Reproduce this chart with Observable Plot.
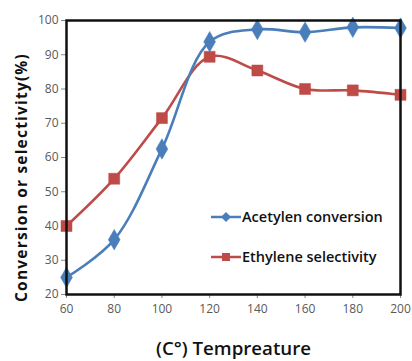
<!DOCTYPE html>
<html><head><meta charset="utf-8">
<script src="https://cdn.jsdelivr.net/npm/d3@7"></script>
<script src="https://cdn.jsdelivr.net/npm/@observablehq/plot@0.6"></script>
<style>
body{margin:0;background:#fff;}
#wrap{position:relative;width:412px;height:361px;}
.leg{position:absolute;font-family:"Open Sans",sans-serif;font-weight:600;font-size:14.5px;color:#111;display:flex;align-items:center;}
</style></head>
<body><div id="wrap"></div>
<script>
const temps = [60, 80, 100, 120, 140, 160, 180, 200];
const conversion = [25, 36, 62.5, 93.8, 97.4, 96.6, 98, 97.8];
const selectivity = [40, 53.8, 71.5, 89.4, 85.4, 80, 79.6, 78.3];
const seriesNames = ["Acetylen conversion", "Ethylene selectivity"];
const colors = ["#4A7EBB", "#BE4B48"];
const xTicks = [60, 80, 100, 120, 140, 160, 180, 200];
const yTicks = [20, 30, 40, 50, 60, 70, 80, 90, 100];

const conv = temps.map((t, i) => ({t, v: conversion[i]}));
const sel = temps.map((t, i) => ({t, v: selectivity[i]}));

const plot = Plot.plot({
  width: 412, height: 361,
  marginLeft: 66, marginRight: 12, marginTop: 20, marginBottom: 67,
  style: {fontFamily: "'Open Sans', sans-serif", background: "#fff", overflow: "visible"},
  x: {domain: [60, 200], ticks: xTicks},
  y: {domain: [20, 100], ticks: yTicks},
  marks: [
    Plot.axisX({ticks: xTicks, tickSize: 4, tickPadding: 6, stroke: "#888", color: "#595959", fontSize: 12, label: null}),
    Plot.axisY({ticks: yTicks, tickSize: 5, tickPadding: 3, stroke: "#888", color: "#595959", fontSize: 12, label: null}),
    Plot.line(sel, {x: "t", y: "v", stroke: colors[1], strokeWidth: 2.6, curve: "catmull-rom"}),
    Plot.line(conv, {x: "t", y: "v", stroke: colors[0], strokeWidth: 2.6, curve: "catmull-rom"}),
    Plot.dot(sel, {x: "t", y: "v", symbol: "square", r: 6.2, fill: colors[1], stroke: colors[1], strokeWidth: 0.5}),
    Plot.dot(conv, {x: "t", y: "v", symbol: "diamond", r: 6.2, fill: colors[0], stroke: colors[0], strokeWidth: 0.5}),
    Plot.frame({stroke: "#111", strokeWidth: 2.5}),
    Plot.text(["(C°) Tempreature"], {frameAnchor: "bottom", dy: 60, fontSize: 18.7, fontWeight: 600, fill: "#111", fontFamily: "'Open Sans', sans-serif"}),
    Plot.text(["Conversion or selectivity(%)"], {frameAnchor: "left", textAnchor: "middle", rotate: -90, dx: -44, dy: 20, fontSize: 15.5, fontWeight: 700, fill: "#111", fontFamily: "'Open Sans', sans-serif", className: "ylab"})
  ]
});
d3.select(plot).selectAll(".ylab text").attr("letter-spacing", "1.2px");
const wrap = document.getElementById("wrap");
wrap.appendChild(plot);

const legTops = [207, 247];
seriesNames.forEach((name, i) => {
  const d = document.createElement("div");
  d.className = "leg";
  d.style.left = "211px";
  d.style.top = legTops[i] + "px";
  const sym = i === 0
    ? `<polygon points="15,1 20,6 15,11 10,6" fill="${colors[0]}"/>`
    : `<rect x="11" y="2" width="8" height="8" fill="${colors[1]}"/>`;
  d.innerHTML = `<svg width="30" height="12" style="margin-right:1px"><line x1="0" x2="30" y1="6" y2="6" stroke="${colors[i]}" stroke-width="2.5"/>${sym}</svg><span>${name}</span>`;
  wrap.appendChild(d);
});
</script></body></html>
